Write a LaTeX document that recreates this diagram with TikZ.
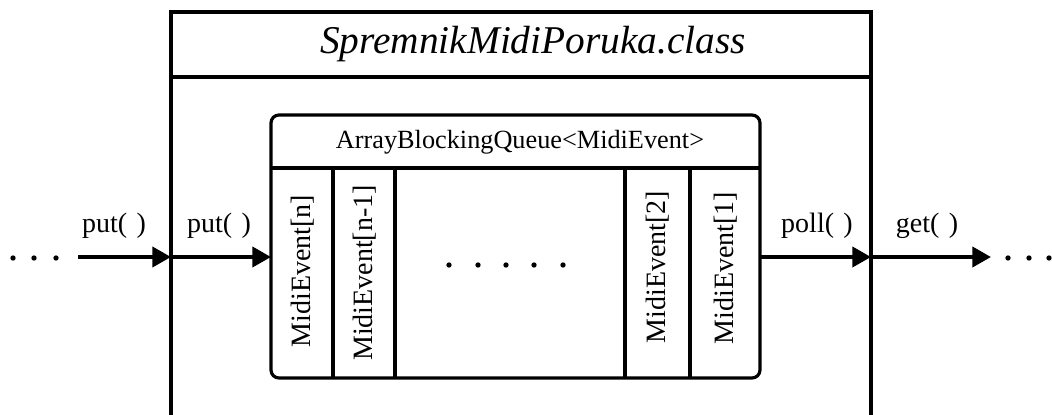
\documentclass[tikz,border=0pt]{standalone}
\usepackage{fontspec}
\setmainfont{Liberation Serif}
\usetikzlibrary{arrows.meta}
\begin{document}
\begin{tikzpicture}[x=0.75pt,y=-0.75pt,
  frame/.style={line width=3pt},
  qline/.style={line width=2.4pt},
  arr/.style={line width=3pt,-{Triangle[length=14pt,width=15pt]}},
  lbl/.style={inner sep=0pt,font=\fontsize{21}{25}\selectfont},
  cell/.style={inner sep=0pt,rotate=90,font=\fontsize{21}{25}\selectfont},
  dot/.style={fill=black,circle,inner sep=0pt,minimum size=4pt}]
\useasboundingbox (0,0) rectangle (1052,414);
% outer class box (open at bottom)
\coordinate (oBL) at (171,416);
\coordinate (oTL) at (171,12);
\coordinate (oTR) at (871,12);
\coordinate (oBR) at (871,416);
\draw[frame,line join=miter] (oBL) -- (oTL) -- (oTR) -- (oBR);
\draw[frame] (171,77) -- (871,77);
\node[inner sep=0pt,font=\fontsize{29.5}{34}\selectfont\itshape] (title) at (533,44) {SpremnikMidiPoruka.class};
% inner queue box
\node[draw,qline,rounded corners=6pt,minimum width=366.75pt,minimum height=197.25pt,inner sep=0pt] (queue) at (515.5,246.5) {};
\draw[qline] (271,168) -- (760,168);
\node[inner sep=0pt,font=\fontsize{19.7}{23}\selectfont] (qtitle) at (520,142) {ArrayBlockingQueue<MidiEvent>};
\foreach \x/\n in {333/d1,395/d2,625/d3,690/d4}{
  \draw[qline] (\x,168) -- (\x,378);
}
\node[cell] (c1) at (303,271) {MidiEvent[n]};
\node[cell] (c2) at (365,273) {MidiEvent[n-1]};
\node[cell] (c3) at (658,267) {MidiEvent[2]};
\node[cell] (c4) at (726,268) {MidiEvent[1]};
\foreach \x/\n in {449/m1,478/m2,506/m3,534/m4,563/m5}{
  \node[dot] (\n) at (\x,265) {};
}
% connectors
\coordinate (aL0) at (78,257);
\coordinate (aL1) at (171,257);
\coordinate (aL2) at (271,257);
\coordinate (aR0) at (760,257);
\coordinate (aR1) at (871,257);
\coordinate (aR2) at (991,257);
\draw[arr] (aL0) -- (aL1);
\draw[arr] (aL1) -- (aL2);
\draw[arr] (aR0) -- (aR1);
\draw[arr] (aR1) -- (aR2);
\node[lbl] (put1) at (114,226) {put(\,\,)};
\node[lbl] (put2) at (219,226) {put(\,\,)};
\node[lbl] (poll) at (817,226) {poll(\,\,)};
\node[lbl] (get) at (927,226) {get(\,\,)};
\foreach \x/\n in {13/l1,34/l2,56/l3}{
  \node[dot] (\n) at (\x,258) {};
}
\foreach \x/\n in {1008/r1,1029/r2,1049/r3}{
  \node[dot] (\n) at (\x,258) {};
}
\end{tikzpicture}
\end{document}
